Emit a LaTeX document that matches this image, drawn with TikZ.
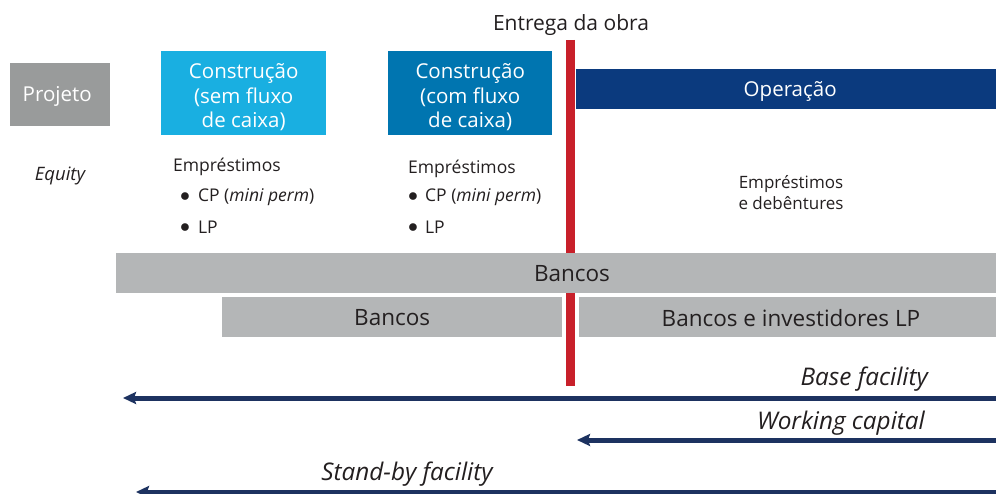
\documentclass[tikz,border=0pt]{standalone}
\usepackage{fontspec}
\setmainfont{Open Sans}
\usetikzlibrary{arrows.meta}
\definecolor{projgray}{HTML}{999B9B}
\definecolor{cyanbox}{HTML}{19AFE1}
\definecolor{bluebox}{HTML}{0075B0}
\definecolor{navybox}{HTML}{0B3A7E}
\definecolor{redline}{HTML}{C8202A}
\definecolor{lightbar}{HTML}{B4B6B7}
\definecolor{arrownavy}{HTML}{1D3260}
\definecolor{txt}{HTML}{231F20}
\newcommand{\bul}{\raisebox{0.3pt}{\scalebox{1.15}{$\bullet$}}}
\tikzset{
  boxbase/.style={anchor=north west, inner sep=0pt},
  whitetxt/.style={inner sep=0pt, align=center, text=white, font=\fontsize{20.5}{24.5}\selectfont},
  barbox/.style={boxbase, fill=lightbar, text=txt, font=\fontsize{22.5}{26}\selectfont},
  bartxt/.style={inner sep=0pt, text=txt, font=\fontsize{22.5}{26}\selectfont},
  plain/.style={text=txt, inner sep=0pt},
  listtxt/.style={plain, anchor=west, font=\fontsize{17.5}{20}\selectfont},
  arrowlbl/.style={plain, font=\itshape\fontsize{24.3}{27}\selectfont},
  longarrow/.style={draw=arrownavy, line width=5pt, -{Stealth[length=13pt,width=12pt,inset=2pt]}}
}
\begin{document}
\begin{tikzpicture}[x=1pt,y=-1pt]
\useasboundingbox (0,0) rectangle (996,494);
% top label
\node[plain, font=\fontsize{21}{24}\selectfont] (entrega) at (571,25) {Entrega da obra};
% boxes
\node[boxbase, fill=projgray, minimum width=100pt, minimum height=63pt] (projeto) at (10,63) {};
\node[whitetxt] (projetoT) at ([xshift=-3pt,yshift=-2pt]projeto.center) {Projeto};
\node[boxbase, fill=cyanbox, minimum width=165pt, minimum height=84pt] (csem) at (161,51) {};
\node[whitetxt] (csemT) at ([yshift=-4pt]csem.center) {Construção\\(sem fluxo\\de caixa)};
\node[boxbase, fill=bluebox, minimum width=164pt, minimum height=84pt] (ccom) at (388,51) {};
\node[whitetxt] (ccomT) at ([yshift=-4pt]ccom.center) {Construção\\(com fluxo\\de caixa)};
\node[boxbase, fill=navybox, minimum width=420pt, minimum height=40pt] (oper) at (576,69) {};
\node[whitetxt] (operT) at ([xshift=4pt,yshift=-2pt]oper.center) {Operação};
% red line
\coordinate (redtop) at (570.5,40);
\coordinate (redbot) at (570.5,386);
\draw[redline, line width=9pt] (redtop) -- (redbot);
% equity
\node[plain, font=\itshape\fontsize{18.5}{20}\selectfont] (equity) at (60,176) {Equity};
% lists
\node[listtxt] (emp1) at (173,167) {Empréstimos};
\node[listtxt] (cp1) at (180,197) {\bul\hspace{8pt}CP (\textit{mini perm})};
\node[listtxt] (lp1) at (180,227) {\bul\hspace{8pt}LP};
\node[listtxt] (emp2) at (408,169) {Empréstimos};
\node[listtxt] (cp2) at (408,197) {\bul\hspace{7pt}CP (\textit{mini perm})};
\node[listtxt] (lp2) at (408,227) {\bul\hspace{7pt}LP};
\node[plain, align=center, font=\fontsize{17}{21}\selectfont] (debent) at (791,193) {Empréstimos\\e debêntures};
% bars
\node[boxbase, fill=lightbar, minimum width=880pt, minimum height=40pt] (bancos) at (116,253) {};
\node[bartxt] (bancosT) at (572,274) {Bancos};
\node[barbox, minimum width=340pt, minimum height=40pt] (bancos2) at (222,297) {Bancos};
\node[boxbase, fill=lightbar, minimum width=417pt, minimum height=40pt] (bancosLP) at (579,297) {};
\node[bartxt] (bancosLPT) at (791,318) {Bancos e investidores LP};
% arrows
\node[arrowlbl, anchor=east] (baselbl) at (928,379) {Base facility};
\coordinate (bfR) at (996,398);
\coordinate (bfL) at (123,398);
\draw[longarrow] (bfR) -- (bfL);
\node[arrowlbl, anchor=east] (wclbl) at (925,423) {Working capital};
\coordinate (wcR) at (996,440);
\coordinate (wcL) at (577,440);
\draw[longarrow] (wcR) -- (wcL);
\node[arrowlbl] (sblbl) at (407,474) {Stand-by facility};
\coordinate (sbR) at (996,492);
\coordinate (sbL) at (136,492);
\draw[longarrow] (sbR) -- (sbL);
\end{tikzpicture}
\end{document}
